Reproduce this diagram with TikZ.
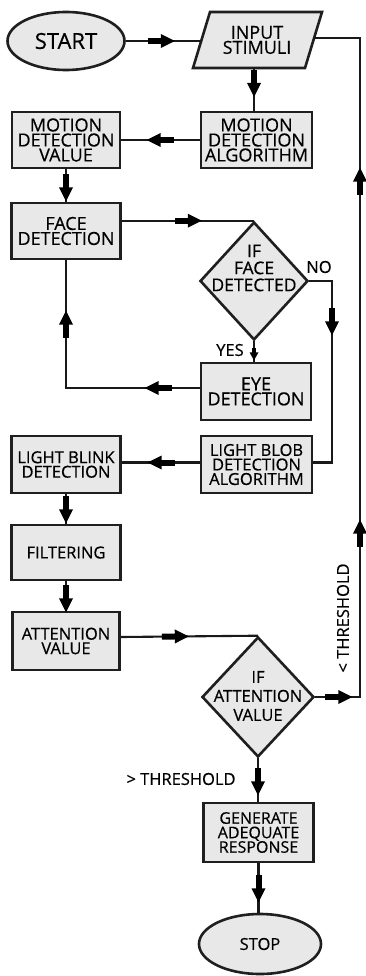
\documentclass[tikz,border=0pt]{standalone}
\usepackage{fontspec}
\setmainfont{Open Sans}[FakeBold=0.5]
\usetikzlibrary{shapes.geometric,decorations.markings}
\newcommand{\ahead}{\fill (-13,-3) rectangle (0.5,3); \fill (0,-7) -- (14,0) -- (0,7) -- cycle;}
\newcommand{\sahead}{\fill (-4,-1.6) rectangle (0.5,1.6); \fill (0,-4.5) -- (8,0) -- (0,4.5) -- cycle;}
\tikzset{
  shp/.style={draw=black!88,line width=2.6pt,fill=gray!18,inner sep=0pt,align=center},
  box/.style={shp,rectangle},
  ell/.style={shp,ellipse},
  dia/.style={shp,diamond},
  txt/.style={inner sep=0pt,align=center},
  big/.style={font=\fontsize{18}{15}\selectfont},
  small/.style={font=\fontsize{16.5}{14.5}\selectfont},
  conn/.style={line width=2.1pt,draw=black!90},
  arr/.style={postaction={decorate,decoration={markings,mark=at position #1 with {\ahead}}}},
  sarr/.style={postaction={decorate,decoration={markings,mark=at position #1 with {\sahead}}}},
}
\begin{document}
\begin{tikzpicture}[x=1pt,y=-1pt]
\useasboundingbox[fill=white] (0,0) rectangle (365,976);
% shapes
\node[ell,minimum width=117pt,minimum height=58pt,font=\fontsize{22}{22}\selectfont] (start) at (66,41) {START};
\draw[shp] (210,12) -- (322,12) -- (305,68) -- (193,68) -- cycle;
\node[txt,big] (inp) at (257,40) {INPUT\\STIMULI};
\coordinate (inpL) at (201.5,41);
\coordinate (inpR) at (314,38);
\coordinate (inpB) at (254,68);
\node[box,big,minimum width=111pt,minimum height=56pt] (mda) at (256.5,140) {MOTION\\DETECTION\\ALGORITHM};
\node[box,big,minimum width=108pt,minimum height=56pt] (mdv) at (66,140) {MOTION\\DETECTION\\VALUE};
\node[box,big,minimum width=109pt,minimum height=56pt] (fd) at (66,231) {FACE\\DETECTION};
\node[dia,minimum width=108pt,minimum height=118pt] (dec1) at (254,281) {};
\node[txt,font=\fontsize{17.5}{17}\selectfont] (dec1t) at (254,268) {IF\\FACE\\DETECTED};
\node[box,big,minimum width=110pt,minimum height=57pt] (eye) at (256,391.5) {EYE\\DETECTION};
\node[box,small,minimum width=111pt,minimum height=57pt] (lbda) at (256.5,464.5) {LIGHT BLOB\\DETECTION\\ALGORITHM};
\node[box,small,minimum width=109pt,minimum height=57pt] (lbd) at (66,464.5) {LIGHT BLINK\\DETECTION};
\node[box,small,minimum width=109pt,minimum height=55pt] (filt) at (66,552.5) {FILTERING};
\node[box,small,minimum width=107pt,minimum height=58pt] (att) at (66,641) {ATTENTION\\VALUE};
\node[dia,minimum width=112pt,minimum height=120pt] (dec2) at (258,697) {};
\node[txt,font=\fontsize{16.5}{19}\selectfont] (dec2t) at (258,696) {IF\\ATTENTION\\VALUE};
\node[box,font=\fontsize{16}{14.5}\selectfont,minimum width=110pt,minimum height=59pt] (gen) at (258.5,832.5) {GENERATE\\ADEQUATE\\RESPONSE};
\node[ell,minimum width=122pt,minimum height=60pt,font=\fontsize{16.5}{16.5}\selectfont] (stop) at (260,944) {STOP};
% labels
\node[txt,small] (no) at (319,267) {NO};
\node[txt,small] (yes) at (230,350) {YES};
\node[txt,small] (gt) at (181,779) {> THRESHOLD};
\node[txt,small,rotate=90] (lt) at (343,618) {< THRESHOLD};
% connectors
\coordinate (noc) at (332,281);
\coordinate (rtop) at (360,38);
\draw[conn,arr=35pt] (start.east) -- (inpL);
\draw[conn,arr=15pt] (inpB) -- (inpB |- mda.north);
\draw[conn,arr=39pt] (mda.west) -- (mdv.east);
\draw[conn,arr=18pt] (mdv.south) -- (fd.north);
\draw[conn,arr=66pt] (fd.east |- dec1.north) -- (dec1.north);
\draw[conn,arr=63pt] (dec1.east) -- (noc) |- ([yshift=2pt]lbda.east);
\draw[conn,sarr=11pt] (dec1.south) -- (dec1.south |- eye.north);
\draw[conn,arr=41pt,arr=197pt] ([yshift=3.5pt]eye.west) -| (fd.south);
\draw[conn,arr=38pt] ([yshift=2pt]lbda.west) -- ([yshift=2pt]lbd.east);
\draw[conn,arr=15pt] (lbd.south) -- (filt.north);
\draw[conn,arr=17pt] (filt.south) -- (att.north);
\draw[conn,arr=54pt] ([yshift=4pt]att.east) -- (dec2.north);
\draw[conn,arr=23pt,arr=208pt,arr=560pt] (dec2.east) -| (rtop) -- (inpR);
\draw[conn,arr=23pt] (dec2.south) -- (dec2.south |- gen.north);
\draw[conn,arr=25pt] (gen.south) -- (gen.south |- stop.north);
\end{tikzpicture}
\end{document}
